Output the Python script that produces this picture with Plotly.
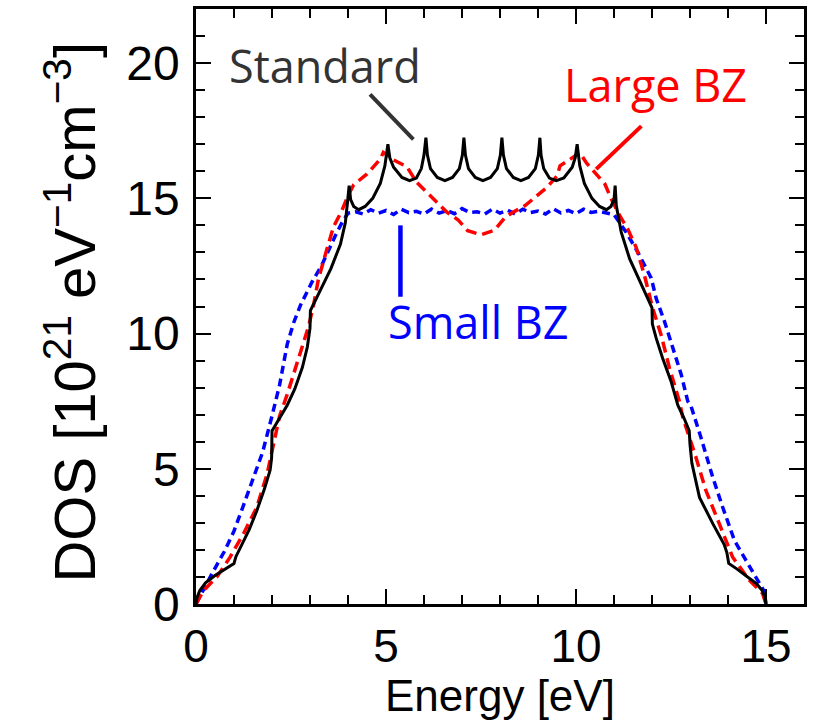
import plotly.graph_objects as go

# ---------------- data ----------------
std_pts = [
    (0.0, 0.0), (0.03, 0.25), (0.1, 0.5), (0.25, 0.78), (0.5, 1.05), (0.75, 1.28), (1.0, 1.5),
    (1.05, 1.75), (1.2, 2.2), (1.4, 2.75), (1.6, 3.45), (1.8, 4.25), (1.95, 4.95), (1.99, 5.4), (2.0, 6.4),
    (2.2, 6.85), (2.4, 7.35), (2.6, 7.95), (2.8, 8.75), (2.93, 9.5), (3.0, 10.2), (3.01, 10.85),
    (3.1, 11.1), (3.3, 11.65), (3.55, 12.4), (3.8, 13.3), (3.93, 14.1), (3.99, 14.9), (4.03, 15.47),
    (4.07, 14.95), (4.15, 14.7), (4.28, 14.58), (4.45, 14.7), (4.65, 15.0), (4.85, 15.55), (4.97, 16.2), (5.05, 17.0),
    (5.1, 16.5), (5.2, 16.15), (5.42, 15.77), (5.62, 15.65), (5.8, 15.75), (5.93, 16.1), (6.0, 16.6), (6.05, 17.24),
    (6.09, 16.6), (6.17, 16.1), (6.35, 15.77), (6.55, 15.65), (6.75, 15.77), (6.93, 16.1), (7.01, 16.6), (7.05, 17.24),
    (7.09, 16.6), (7.17, 16.1), (7.35, 15.77), (7.55, 15.65), (7.75, 15.77), (7.93, 16.1), (8.01, 16.6), (8.05, 17.24),
    (8.09, 16.6), (8.17, 16.1), (8.35, 15.77), (8.55, 15.65), (8.75, 15.77), (8.93, 16.1), (9.01, 16.6), (9.05, 17.24),
    (9.08, 16.6), (9.15, 16.1), (9.3, 15.75), (9.48, 15.65), (9.68, 15.75), (9.9, 16.15), (9.98, 16.5), (10.03, 17.0),
    (10.1, 16.2), (10.22, 15.55), (10.42, 15.0), (10.62, 14.7), (10.8, 14.58), (10.92, 14.7), (11.0, 14.95), (11.03, 15.47),
    (11.06, 14.73), (11.19, 13.75), (11.41, 12.77), (11.72, 11.79), (11.98, 11.0), (12.0, 10.95), (12.01, 10.35),
    (12.11, 9.83), (12.28, 9.09), (12.5, 8.24), (12.68, 7.35), (12.85, 6.85), (12.98, 6.4), (13.0, 5.9), (13.05, 5.2),
    (13.25, 3.94), (13.6, 2.97), (13.9, 2.2), (13.97, 1.9), (14.02, 1.5),
    (14.25, 1.28), (14.5, 1.02), (14.75, 0.75), (14.9, 0.5), (14.97, 0.25), (15.0, 0.0),
]

large_pts = [
    (0.0, 0.0), (0.2, 0.5), (0.55, 1.0), (0.9, 1.74), (1.25, 2.6), (1.6, 3.58), (1.87, 4.8), (2.0, 5.66),
    (2.2, 6.95), (2.4, 7.75), (2.6, 8.65), (2.83, 9.7), (2.97, 10.3), (3.1, 11.1), (3.22, 12.0), (3.44, 13.1),
    (3.62, 13.95), (3.84, 14.55), (4.0, 15.1), (4.15, 15.5), (4.5, 15.9), (4.85, 16.45), (4.93, 16.7),
    (5.2, 16.42), (5.55, 16.17), (5.8, 15.6), (6.12, 15.15), (6.35, 14.8), (6.6, 14.49), (6.9, 14.2),
    (7.15, 13.8), (7.5, 13.65), (7.85, 13.82), (8.14, 14.3), (8.35, 14.49), (8.66, 14.73), (8.9, 15.0),
    (9.23, 15.4), (9.5, 15.83), (9.58, 16.2), (9.85, 16.45), (10.1, 16.69), (10.28, 16.3), (10.5, 15.96),
    (10.76, 15.53), (10.93, 14.97), (11.15, 14.36), (11.36, 13.87), (11.58, 13.2), (11.8, 12.16),
    (12.02, 10.93), (12.24, 9.95), (12.46, 8.72), (12.72, 7.5), (12.81, 6.9), (13.16, 5.41), (13.42, 4.19),
    (13.77, 2.97), (14.12, 1.74), (14.56, 0.88), (14.91, 0.39), (15.0, 0.0),
]

small_pts = [
    (0.0, 0.0), (0.2, 0.55), (0.45, 1.2), (0.75, 1.95), (1.0, 2.7), (1.25, 3.65), (1.5, 4.6), (1.75, 5.6),
    (2.0, 6.95), (2.2, 8.1), (2.4, 9.6), (2.57, 10.4), (2.75, 11.05), (3.05, 11.9), (3.3, 12.5), (3.5, 13.15),
    (3.66, 13.6), (3.84, 14.1),
    (4.0, 14.45), (4.2, 14.5), (4.4, 14.42), (4.6, 14.58), (4.8, 14.45), (5.0, 14.55), (5.2, 14.4), (5.4, 14.6),
    (5.6, 14.47), (5.8, 14.52), (6.0, 14.42), (6.2, 14.6), (6.4, 14.45), (6.6, 14.55), (6.8, 14.43), (7.0, 14.62),
    (7.2, 14.48), (7.4, 14.5), (7.6, 14.42), (7.8, 14.6), (8.0, 14.45), (8.2, 14.56), (8.4, 14.42), (8.6, 14.6),
    (8.8, 14.47), (9.0, 14.53), (9.2, 14.42), (9.4, 14.62), (9.6, 14.46), (9.8, 14.55), (10.0, 14.43), (10.2, 14.6),
    (10.4, 14.48), (10.6, 14.52), (10.8, 14.45), (11.0, 14.4),
    (11.32, 13.75), (11.63, 13.0), (11.85, 12.4), (11.98, 12.05), (12.11, 11.3), (12.33, 10.44), (12.55, 9.46),
    (12.77, 8.48), (12.94, 7.5), (13.03, 7.3), (13.29, 6.15), (13.6, 4.68), (13.86, 3.58), (14.17, 2.35),
    (14.47, 1.62), (14.73, 1.0), (14.96, 0.45), (15.0, 0.0),
]

x_ticks = [0, 5, 10, 15]
y_ticks = [0, 5, 10, 15, 20]

# ---------------- figure ----------------
def xs(p):
    return [a for a, _ in p]

def ys(p):
    return [b for _, b in p]

fig = go.Figure()
fig.add_trace(go.Scatter(x=xs(small_pts), y=ys(small_pts), mode="lines",
                         line=dict(color="#0000ff", width=3.5, dash="8px,5px"), name="Small BZ"))
fig.add_trace(go.Scatter(x=xs(large_pts), y=ys(large_pts), mode="lines",
                         line=dict(color="#ff0000", width=3.5, dash="11px,6px"), name="Large BZ"))
fig.add_trace(go.Scatter(x=xs(std_pts), y=ys(std_pts), mode="lines",
                         line=dict(color="#000000", width=3), name="Standard"))

common = dict(showgrid=False, zeroline=False, showline=True, linecolor="black", linewidth=2.5,
              mirror="ticks", ticks="inside", ticklen=15, tickwidth=2, tickcolor="black")
fig.update_xaxes(range=[0, 16], tickvals=x_ticks, **common,
                 tickfont=dict(family="Liberation Sans, Arial, sans-serif", size=46, color="black"),
                 minor=dict(ticks="inside", ticklen=9, tickwidth=2, dtick=1, tick0=0, tickcolor="black"))
fig.update_yaxes(range=[0, 22], tickvals=y_ticks, ticklabelstandoff=4, **common,
                 tickfont=dict(family="Liberation Sans, Arial, sans-serif", size=48, color="black"),
                 minor=dict(ticks="inside", ticklen=9, tickwidth=2, dtick=1, tick0=0, tickcolor="black"))

lab = dict(family="Open Sans, Noto Sans, sans-serif", size=45)
fig.update_layout(
    width=820, height=724, margin=dict(l=196, r=16, t=6, b=120),
    plot_bgcolor="white", paper_bgcolor="white", showlegend=False,
    annotations=[
        dict(text="Standard", x=3.40, y=19.9, xref="x", yref="y", showarrow=False,
             xanchor="center", yanchor="middle", font=dict(color="#333333", **lab)),
        dict(text="Large BZ", x=12.09, y=19.2, xref="x", yref="y", showarrow=False,
             xanchor="center", yanchor="middle", font=dict(color="#ff0000", **lab)),
        dict(text="Small BZ", x=7.44, y=10.45, xref="x", yref="y", showarrow=False,
             xanchor="center", yanchor="middle", font=dict(color="#0000ff", **lab)),
        dict(text="Energy [eV]", x=0.5, y=-0.153, xref="paper", yref="paper", showarrow=False,
             xanchor="center", yanchor="middle",
             font=dict(family="Liberation Sans, Arial, sans-serif", size=44, color="black")),
        dict(text="DOS [10<sup>21</sup> eV<sup>\u22121</sup>cm<sup>\u22123</sup>]", x=-0.207, y=0.49,
             xref="paper", yref="paper", showarrow=False, textangle=-90,
             xanchor="center", yanchor="middle",
             font=dict(family="Liberation Sans, Arial, sans-serif", size=58, color="black")),
    ],
    shapes=[
        dict(type="line", xref="x", yref="y", x0=4.58, y0=18.84, x1=5.72, y1=17.18,
             line=dict(color="#333333", width=4)),
        dict(type="line", xref="x", yref="y", x0=11.72, y0=17.67, x1=10.53, y1=16.08,
             line=dict(color="#ff0000", width=4)),
        dict(type="line", xref="x", yref="y", x0=5.38, y0=14.0, x1=5.38, y1=11.36,
             line=dict(color="#0000ff", width=4.5)),
    ],
)

fig.write_html("out.html")
